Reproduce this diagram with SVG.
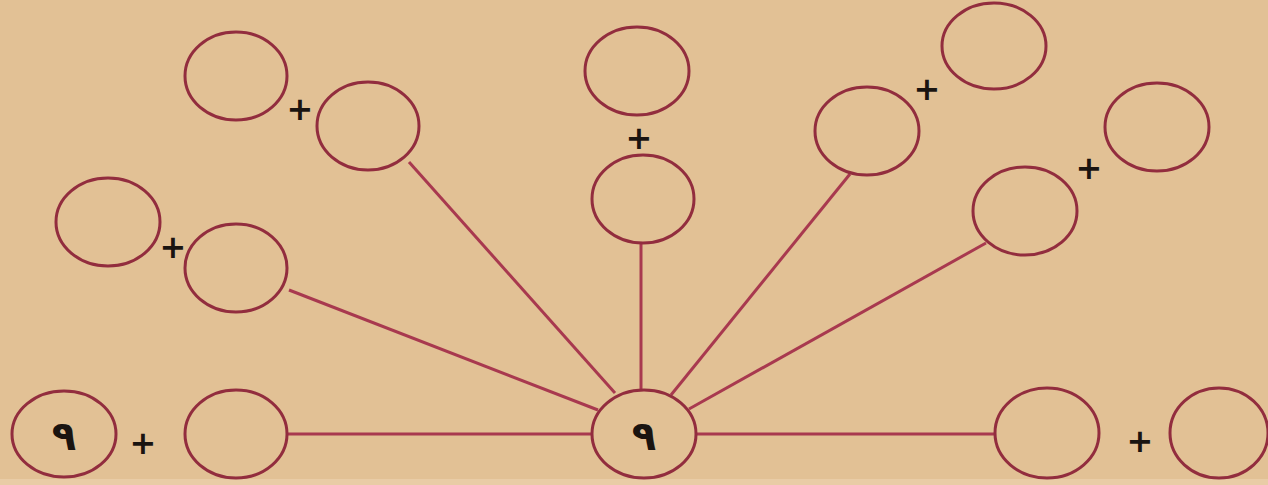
<svg xmlns="http://www.w3.org/2000/svg" width="1268" height="485" viewBox="0 0 1268 485">
<style>
.n{fill:none;stroke:#922d3e;stroke-width:3}
.c line{stroke:#a8394f;stroke-width:3}
.p{font-family:"DejaVu Sans",sans-serif;font-size:32px;font-weight:bold;fill:#1a1410;text-anchor:middle}
.d{font-family:"DejaVu Sans",sans-serif;font-size:40px;font-weight:bold;fill:#1a1410;text-anchor:middle}
</style>
<rect width="1268" height="485" fill="#e2c195"/>
<rect x="0" y="479" width="1268" height="6" fill="#e9cca6"/>
<g class="c" id="connectors">
<line x1="289" y1="290" x2="598" y2="410"/>
<line x1="409" y1="162" x2="615" y2="393"/>
<line x1="641" y1="243" x2="641" y2="390"/>
<line x1="850" y1="174" x2="671" y2="395"/>
<line x1="986" y1="243" x2="689" y2="409"/>
<line x1="287" y1="434" x2="592" y2="434"/>
<line x1="696" y1="434" x2="995" y2="434"/>
</g>
<g id="n1"><ellipse class="n" cx="64" cy="434" rx="52" ry="43"/><text class="d" x="64" y="450">٩</text></g>
<g id="n2"><ellipse class="n" cx="236" cy="434" rx="51" ry="44"/></g>
<text class="p" x="143" y="454">+</text>
<g id="center"><ellipse class="n" cx="644" cy="434" rx="52" ry="44"/><text class="d" x="644" y="450">٩</text></g>
<g id="n3"><ellipse class="n" cx="1047" cy="433" rx="52" ry="45"/></g>
<text class="p" x="1140" y="452">+</text>
<g id="n4"><ellipse class="n" cx="1219" cy="433" rx="49" ry="45"/></g>
<g id="n5"><ellipse class="n" cx="108" cy="222" rx="52" ry="44"/></g>
<g id="n6"><ellipse class="n" cx="236" cy="268" rx="51" ry="44"/></g>
<text class="p" x="173" y="258">+</text>
<g id="n7"><ellipse class="n" cx="236" cy="76" rx="51" ry="44"/></g>
<g id="n8"><ellipse class="n" cx="368" cy="126" rx="51" ry="44"/></g>
<text class="p" x="300" y="120">+</text>
<g id="n9"><ellipse class="n" cx="637" cy="71" rx="52" ry="44"/></g>
<text class="p" x="639" y="149">+</text>
<g id="n10"><ellipse class="n" cx="643" cy="199" rx="51" ry="44"/></g>
<g id="n11"><ellipse class="n" cx="867" cy="131" rx="52" ry="44"/></g>
<g id="n12"><ellipse class="n" cx="994" cy="46" rx="52" ry="43"/></g>
<text class="p" x="927" y="100">+</text>
<g id="n13"><ellipse class="n" cx="1025" cy="211" rx="52" ry="44"/></g>
<g id="n14"><ellipse class="n" cx="1157" cy="127" rx="52" ry="44"/></g>
<text class="p" x="1089" y="179">+</text>
</svg>
